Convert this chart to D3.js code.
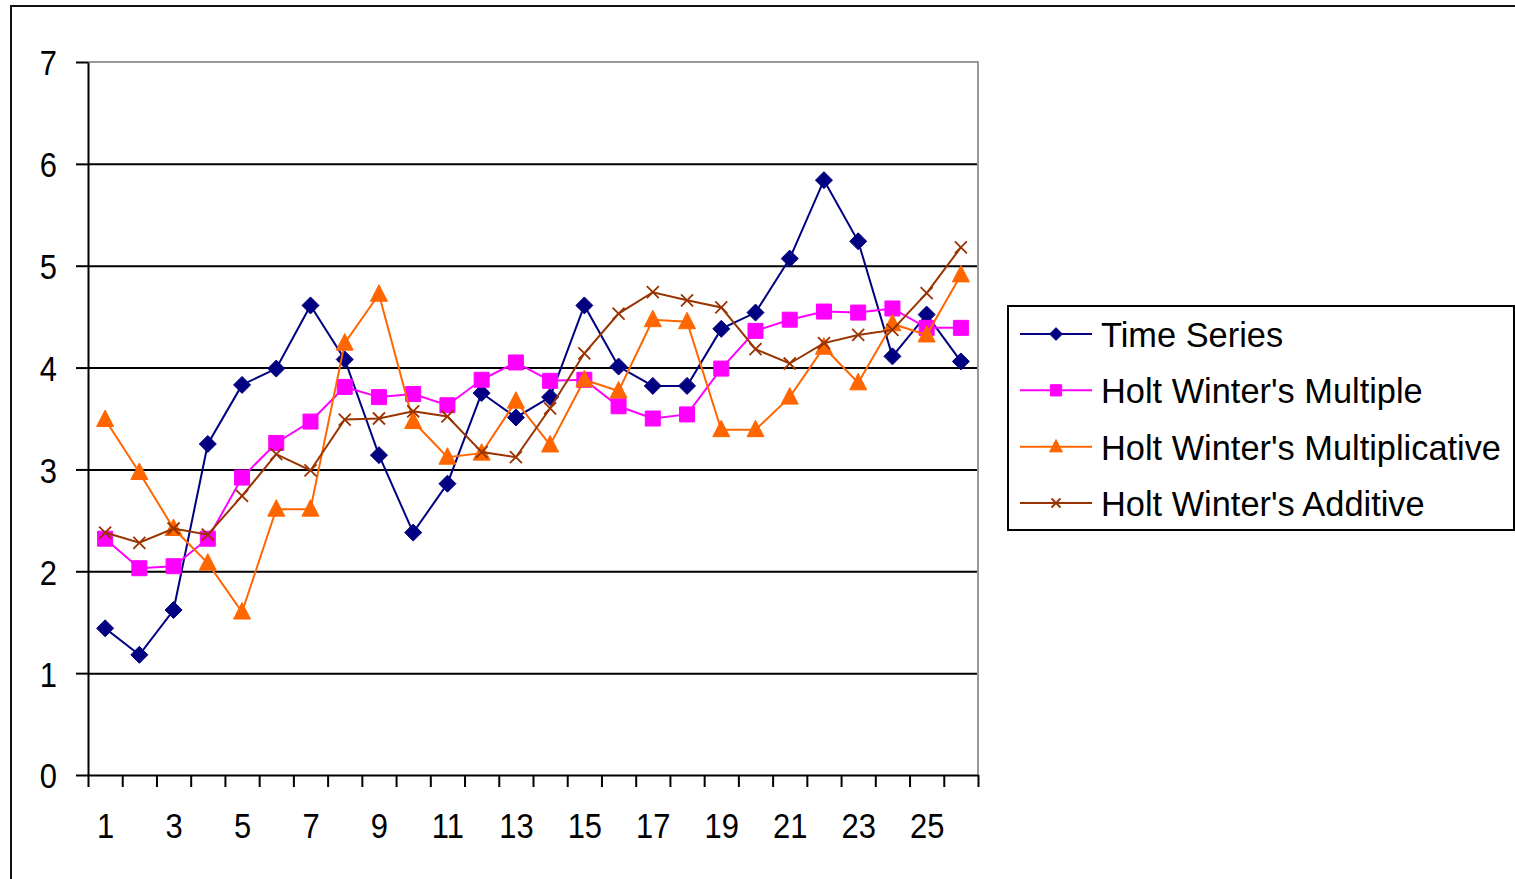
<!DOCTYPE html>
<html>
<head>
<meta charset="utf-8">
<script src="https://cdn.jsdelivr.net/npm/d3@7/dist/d3.min.js"></script>
<style>
  html, body { margin: 0; padding: 0; background: #fff; }
  svg { display: block; }
  text { font-family: "Liberation Sans", Arial, sans-serif; fill: #000; }
</style>
</head>
<body>
<script>
// Periods 1..26
const periods = d3.range(1, 27);
const yTicks = [0, 1, 2, 3, 4, 5, 6, 7];
const xLabels = [1, 3, 5, 7, 9, 11, 13, 15, 17, 19, 21, 23, 25];

const timeSeries = [1.44, 1.18, 1.62, 3.25, 3.83, 3.99, 4.61, 4.08, 3.14, 2.38, 2.86, 3.75, 3.51,
                    3.71, 4.61, 4.01, 3.82, 3.82, 4.38, 4.54, 5.07, 5.84, 5.24, 4.11, 4.52, 4.06];
const hwMultiple = [2.32, 2.03, 2.05, 2.32, 2.92, 3.26, 3.47, 3.81, 3.71, 3.74, 3.63, 3.88, 4.05,
                    3.87, 3.88, 3.62, 3.50, 3.54, 3.99, 4.36, 4.47, 4.55, 4.54, 4.58, 4.39, 4.39];
const hwMultiplicative = [3.49, 2.97, 2.42, 2.08, 1.60, 2.61, 2.61, 4.24, 4.72, 3.47, 3.12, 3.16, 3.67,
                          3.24, 3.88, 3.77, 4.47, 4.45, 3.39, 3.39, 3.71, 4.20, 3.85, 4.43, 4.32, 4.91];
const hwAdditive = [2.38, 2.28, 2.42, 2.36, 2.74, 3.15, 2.99, 3.49, 3.50, 3.57, 3.52, 3.17, 3.12,
                    3.60, 4.14, 4.53, 4.74, 4.66, 4.59, 4.18, 4.04, 4.24, 4.32, 4.37, 4.73, 5.18];

const seriesNames = ["Time Series", "Holt Winter's Multiple", "Holt Winter's Multiplicative", "Holt Winter's Additive"];
const seriesColors = ["#000080", "#FF00FF", "#FF6600", "#993300"];
const seriesMarkers = ["diamond", "square", "triangle", "cross"];
const seriesValues = [timeSeries, hwMultiple, hwMultiplicative, hwAdditive];

const W = 1515, H = 879;
const plot = { left: 88, right: 978, top: 62, bottom: 775 };
const digitScale = 0.86;   // narrow the axis digits a little

const svg = d3.select("body").append("svg").attr("width", W).attr("height", H);

// outer chart frame
svg.append("rect").attr("x", 11).attr("y", 6).attr("width", W + 20).attr("height", H + 20)
  .attr("fill", "#fff").attr("stroke", "#111").attr("stroke-width", 2);

const x = d3.scaleLinear().domain([0.5, 26.5]).range([plot.left, plot.right]);
const y = d3.scaleLinear().domain([0, 7]).range([plot.bottom, plot.top]);

// gridlines
svg.append("g").attr("transform", `translate(${plot.left},0)`)
  .call(d3.axisLeft(y).tickValues([1, 2, 3, 4, 5, 6]).tickSize(-(plot.right - plot.left)).tickFormat(""))
  .call(g => g.select(".domain").remove())
  .call(g => g.selectAll("line").attr("stroke", "#000").attr("stroke-width", 2));

// plot area border (top and right, grey)
svg.append("path")
  .attr("d", `M${plot.left},${y(7)}H${plot.right}V${plot.bottom}`)
  .attr("fill", "none").attr("stroke", "#999").attr("stroke-width", 2);

// y axis
svg.append("g").attr("transform", `translate(${plot.left},0)`)
  .call(d3.axisLeft(y).tickValues(yTicks).tickSize(12).tickPadding(19).tickSizeOuter(0).tickFormat(d3.format("d")))
  .call(g => g.select(".domain").attr("stroke", "#000").attr("stroke-width", 2))
  .call(g => g.selectAll(".tick line").attr("stroke", "#000").attr("stroke-width", 2))
  .call(g => g.selectAll("text").attr("font-size", 36).attr("dy", "0.36em")
    .attr("x", -31 / digitScale).attr("transform", `scale(${digitScale},1)`)
    .style("font-family", "'Liberation Sans', Arial, sans-serif"));

// x axis: ticks between categories
svg.append("g").attr("transform", `translate(0,${plot.bottom})`)
  .call(d3.axisBottom(x).tickValues(d3.range(0.5, 27, 1)).tickSize(12).tickFormat("").tickSizeOuter(0))
  .call(g => g.select(".domain").attr("stroke", "#000").attr("stroke-width", 2))
  .call(g => g.selectAll(".tick line").attr("stroke", "#000").attr("stroke-width", 2));

// x axis labels on odd periods
svg.append("g").attr("transform", `translate(0,${plot.bottom})`)
  .call(d3.axisBottom(x).tickValues(xLabels).tickSize(0).tickPadding(37).tickFormat(d3.format("d")))
  .call(g => g.select(".domain").remove())
  .call(g => g.selectAll("text").attr("font-size", 36).attr("transform", `scale(${digitScale},1)`)
    .style("font-family", "'Liberation Sans', Arial, sans-serif"));

function markerPath(type, s) {
  switch (type) {
    case "diamond": return `M0,${-8.5 * s}L${8.5 * s},0L0,${8.5 * s}L${-8.5 * s},0Z`;
    case "square": return `M${-7.5 * s},${-7.5 * s}H${7.5 * s}V${7.5 * s}H${-7.5 * s}Z`;
    case "triangle": return `M0,${-9.5 * s}L${8.5 * s},${7 * s}H${-8.5 * s}Z`;
    case "cross": return `M${-6 * s},${-6 * s}L${6 * s},${6 * s}M${6 * s},${-6 * s}L${-6 * s},${6 * s}`;
  }
}

function drawMarker(g, type, color, s) {
  const filled = type !== "cross";
  g.append("path").attr("d", markerPath(type, s))
    .attr("fill", filled ? color : "none")
    .attr("stroke", color).attr("stroke-width", filled ? 1 : 1.8);
}

const line = d3.line().x((d, i) => x(periods[i])).y(d => y(d));

seriesValues.forEach((vals, si) => {
  const g = svg.append("g");
  g.append("path").datum(vals).attr("d", line)
    .attr("fill", "none").attr("stroke", seriesColors[si]).attr("stroke-width", 2);
  vals.forEach((v, i) => {
    const m = g.append("g").attr("transform", `translate(${x(periods[i])},${y(v)})`);
    drawMarker(m, seriesMarkers[si], seriesColors[si], 1);
  });
});

// legend
const legend = svg.append("g");
legend.append("rect").attr("x", 1008).attr("y", 306).attr("width", 506).attr("height", 224)
  .attr("fill", "#fff").attr("stroke", "#000").attr("stroke-width", 2);
const legendY = d3.scalePoint().domain(seriesNames).range([334, 503]);
seriesNames.forEach((name, si) => {
  const ly = legendY(name);
  legend.append("line").attr("x1", 1020).attr("x2", 1092).attr("y1", ly).attr("y2", ly)
    .attr("stroke", seriesColors[si]).attr("stroke-width", 2);
  const m = legend.append("g").attr("transform", `translate(1056,${ly})`);
  drawMarker(m, seriesMarkers[si], seriesColors[si], 0.75);
  legend.append("text").attr("transform", `translate(1101,${ly + 13}) scale(0.955,1)`)
    .attr("font-size", 36).text(name);
});
</script>
</body>
</html>
